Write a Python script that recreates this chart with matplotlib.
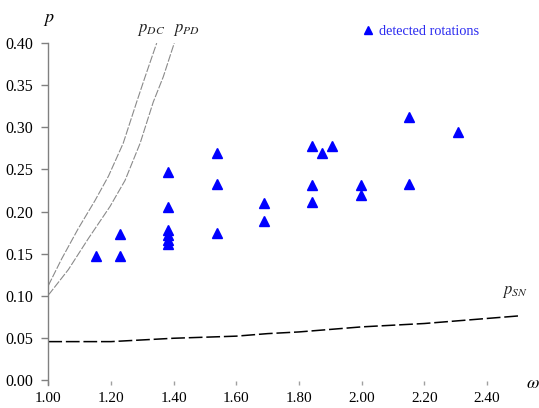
import matplotlib
matplotlib.use("Agg")
import matplotlib.pyplot as plt

plt.rcParams['font.family'] = ['Liberation Serif', 'DejaVu Serif']
plt.rcParams['mathtext.fontset'] = 'stix'

# detected rotations (omega, p)
det_omega = [1.152, 1.228, 1.228, 1.383, 1.383, 1.383, 1.383, 1.383, 1.383,
             1.537, 1.537, 1.537, 1.690, 1.690,
             1.842, 1.842, 1.842, 1.873, 1.904, 1.997, 1.997,
             2.151, 2.151, 2.306]
det_p = [0.147, 0.173, 0.147, 0.247, 0.205, 0.178, 0.172, 0.166, 0.162,
         0.269, 0.233, 0.175, 0.210, 0.189,
         0.278, 0.231, 0.211, 0.269, 0.278, 0.231, 0.220,
         0.312, 0.233, 0.294]

# boundary curves
dc_omega = [1.000, 1.043, 1.096, 1.149, 1.192, 1.239, 1.282, 1.309, 1.346]
dc_p = [0.112, 0.144, 0.180, 0.213, 0.242, 0.281, 0.330, 0.360, 0.400]
pd_omega = [1.000, 1.005, 1.064, 1.128, 1.197, 1.245, 1.293, 1.335, 1.367, 1.402]
pd_p = [0.101, 0.103, 0.131, 0.168, 0.206, 0.237, 0.281, 0.330, 0.360, 0.400]
sn_omega = [1.00, 1.20, 1.40, 1.60, 1.70, 1.80, 2.00, 2.20, 2.40, 2.50]
sn_p = [0.0455, 0.0455, 0.0495, 0.052, 0.055, 0.057, 0.063, 0.067, 0.073, 0.076]

xticks = [1.00, 1.20, 1.40, 1.60, 1.80, 2.00, 2.20, 2.40]
yticks = [0.00, 0.05, 0.10, 0.15, 0.20, 0.25, 0.30, 0.35, 0.40]

fig = plt.figure(figsize=(5.39, 4.08), dpi=100)
ax = fig.add_axes([0.0896, 0.0564, 0.872, 0.838])
ax.set_xlim(1.0, 2.5)
ax.set_ylim(-0.006, 0.40)

ax.plot(dc_omega, dc_p, color='#8a8a8a', lw=0.8, dashes=(7, 1.5))
ax.plot(pd_omega, pd_p, color='#8a8a8a', lw=0.8, dashes=(7, 1.5))
ax.plot(sn_omega, sn_p, color='black', lw=1.1, dashes=(9, 2.5))
ax.plot(det_omega, det_p, linestyle='none', marker='^', ms=7.5,
        color='#0000ff', mec='#0000ff', label='detected rotations')

for s in ['top', 'right', 'bottom']:
    ax.spines[s].set_visible(False)
ax.spines['left'].set_color('#808080')
ax.spines['left'].set_linewidth(1.0)

ax.set_xticks(xticks)
ax.set_xticklabels([f"{v:.2f}" for v in xticks])
ax.set_yticks(yticks)
ax.set_yticklabels([f"{v:.2f}" for v in yticks])
ax.tick_params(axis='y', direction='out', length=5, width=1, color='#808080',
               labelsize=11.5, pad=6)
ax.tick_params(axis='x', direction='in', length=3, width=1, color='#a0a0a0',
               labelsize=11, pad=5)

ax.text(1.328, 0.415, r'$p_{DC}$', fontsize=12, ha='center', va='center', color='#222222')
ax.text(1.44, 0.415, r'$p_{PD}$', fontsize=12, ha='center', va='center', color='#222222')
ax.text(2.49, 0.104, r'$p_{SN}$', fontsize=12, ha='center', va='center', color='#222222')
ax.text(1.002, 0.428, r'$p$', fontsize=13, ha='center', va='center')
ax.text(2.547, -0.004, r'$\omega$', fontsize=13, ha='center', va='center')

fig.legend(loc='center left', bbox_to_anchor=(362 / 539, 1 - 31 / 408),
           frameon=False, borderpad=0, borderaxespad=0, handlelength=0.8,
           handletextpad=0.4, fontsize=10.3, labelcolor='#2b2bf0',
           markerscale=0.8)

fig.savefig('out.png', dpi=100)
